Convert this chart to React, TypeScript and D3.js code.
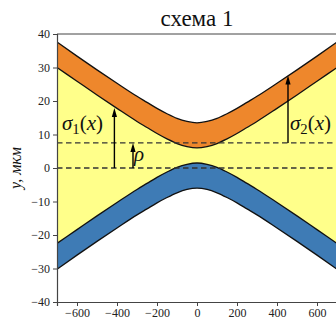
import { useEffect, useRef } from 'react';
import * as d3 from 'd3';

// readings
const xs = [-700, -600, -500, -400, -300, -250, -200, -150, -100, -50, 0, 50, 100, 150, 200, 250, 300, 400, 500, 600, 700];
const orangeLow = [30, 25.9, 21.8, 17.8, 13.9, 12.1, 10.3, 8.7, 7.3, 6.4, 6, 6.4, 7.3, 8.7, 10.3, 12.1, 13.9, 17.8, 21.8, 25.9, 30];
const orangeHigh = [37.6, 33.4, 29.3, 25.3, 21.4, 19.6, 17.8, 16.2, 14.8, 13.9, 13.5, 13.9, 14.8, 16.2, 17.8, 19.6, 21.4, 25.3, 29.3, 33.4, 37.6];
const blueHigh = [-22.5, -18.4, -14.3, -10.3, -6.4, -4.6, -2.8, -1.2, 0.2, 1.1, 1.5, 1.1, 0.2, -1.2, -2.8, -4.6, -6.4, -10.3, -14.3, -18.4, -22.5];
const blueLow = [-30.2, -26, -21.9, -17.9, -14, -12.2, -10.4, -8.8, -7.4, -6.4, -6, -6.4, -7.4, -8.8, -10.4, -12.2, -14, -17.9, -21.9, -26, -30.2];
const dashedY = [0, 7.5];
const xTicks = [-600, -400, -200, 0, 200, 400, 600];
const yTicks = [-40, -30, -20, -10, 0, 10, 20, 30, 40];
// arrows: [x, from, to]
const arrowSigma1 = [-413, 0, 17.9];
const arrowRho = [-320, 0, 7.5];
const arrowSigma2 = [455, 7.5, 27.6];

const W = 336;
const H = 320;
const margin = { top: 34, right: -1, bottom: 18, left: 57 };
const serif = 'Liberation Serif';

export default function App() {
  const ref = useRef<SVGSVGElement>(null);

  useEffect(() => {
    if (!ref.current) return;
    const svg = d3.select(ref.current);
    svg.selectAll('*').remove();

    const x = d3.scaleLinear().domain([-700, 700]).range([margin.left, W - margin.right]);
    const y = d3.scaleLinear().domain([-40, 40]).range([H - margin.bottom, margin.top]);

    svg.append('defs').append('clipPath').attr('id', 'plot')
      .append('rect')
      .attr('x', x(-700)).attr('y', y(40))
      .attr('width', x(700) - x(-700)).attr('height', y(-40) - y(40));

    const g = svg.append('g').attr('clip-path', 'url(#plot)');
    const idx = d3.range(xs.length);
    const curve = d3.curveMonotoneX;

    const band = (lo: number[], hi: number[]) =>
      d3.area<number>().x((i) => x(xs[i])).y0((i) => y(lo[i])).y1((i) => y(hi[i])).curve(curve)(idx)!;
    const line = (v: number[]) =>
      d3.line<number>().x((i) => x(xs[i])).y((i) => y(v[i])).curve(curve)(idx)!;

    g.append('path').attr('d', band(blueHigh, orangeLow)).attr('fill', '#ffff8a');
    g.append('path').attr('d', band(orangeLow, orangeHigh)).attr('fill', '#ee872c');
    g.append('path').attr('d', band(blueLow, blueHigh)).attr('fill', '#3e7bb5');

    [orangeLow, orangeHigh, blueHigh, blueLow].forEach((v) => {
      g.append('path').attr('d', line(v)).attr('fill', 'none')
        .attr('stroke', '#111').attr('stroke-width', 1.3);
    });

    dashedY.forEach((d) => {
      g.append('line')
        .attr('x1', x(-700)).attr('x2', x(700))
        .attr('y1', y(d)).attr('y2', y(d))
        .attr('stroke', '#333').attr('stroke-width', 1.3)
        .attr('stroke-dasharray', '5.5,3.5');
    });

    const arrow = ([ax, from, to]: number[]) => {
      const px = x(ax);
      const y0 = y(from);
      const y1 = y(to);
      g.append('line').attr('x1', px).attr('x2', px).attr('y1', y0).attr('y2', y1 + 6)
        .attr('stroke', '#000').attr('stroke-width', 1.4);
      g.append('path')
        .attr('d', `M${px},${y1} L${px - 2.6},${y1 + 9} L${px + 2.6},${y1 + 9} Z`)
        .attr('fill', '#000');
    };
    arrow(arrowSigma1);
    arrow(arrowRho);
    arrow(arrowSigma2);

    // labels
    const mathLabel = (px: number, py: number, sub: string | null, size: number, name: string, tail: boolean) => {
      const t = svg.append('text').attr('x', px).attr('y', py)
        .attr('font-family', serif).attr('font-size', size).attr('fill', '#111');
      t.append('tspan').attr('font-style', 'italic').text(name);
      if (sub) t.append('tspan').attr('font-size', size * 0.7).attr('dy', 4).text(sub);
      if (tail) {
        t.append('tspan').attr('dy', sub ? -4 : 0).text('(');
        t.append('tspan').attr('font-style', 'italic').text('x');
        t.append('tspan').text(')');
      }
    };
    mathLabel(62, 130, '1', 21, 'σ', true);
    mathLabel(290, 130, '2', 21, 'σ', true);
    mathLabel(134, 161, null, 21, 'ρ', false);

    // spines
    const spine = '#444';
    svg.append('line').attr('x1', x(-700)).attr('x2', x(700)).attr('y1', y(40)).attr('y2', y(40))
      .attr('stroke', spine).attr('stroke-width', 1);
    svg.append('line').attr('x1', x(700)).attr('x2', x(700)).attr('y1', y(40)).attr('y2', y(-40))
      .attr('stroke', spine).attr('stroke-width', 1);

    const fmt = (d: d3.NumberValue) => String(d).replace('-', '\u2212');

    svg.append('g')
      .attr('transform', `translate(${x(-700)},0)`)
      .call(d3.axisLeft(y).tickValues(yTicks).tickSize(4).tickPadding(3).tickFormat(fmt))
      .call((ax) => ax.attr('font-family', serif))
      .call((ax) => ax.select('.domain').attr('stroke', spine).attr('stroke-width', 1.2))
      .call((ax) => ax.selectAll('.tick line').attr('stroke', spine))
      .call((ax) => ax.selectAll('.tick text').attr('font-size', 12).attr('fill', '#222'));

    svg.append('g')
      .attr('transform', `translate(0,${y(-40)})`)
      .call(d3.axisBottom(x).tickValues(xTicks).tickSize(4).tickPadding(2).tickFormat(fmt))
      .call((ax) => ax.attr('font-family', serif))
      .call((ax) => ax.select('.domain').attr('stroke', spine).attr('stroke-width', 1.2))
      .call((ax) => ax.selectAll('.tick line').attr('stroke', spine))
      .call((ax) => ax.selectAll('.tick text').attr('font-size', 12).attr('fill', '#222'));

    svg.append('text')
      .attr('x', (x(-700) + x(700)) / 2).attr('y', 26)
      .attr('text-anchor', 'middle')
      .attr('font-family', serif).attr('font-size', 23).attr('fill', '#111')
      .text('схема 1');

    svg.append('text')
      .attr('transform', `translate(21,${(y(40) + y(-40)) / 2}) rotate(-90)`)
      .attr('text-anchor', 'middle')
      .attr('font-family', serif).attr('font-size', 16).attr('font-style', 'italic').attr('fill', '#111')
      .text('y, мкм');
  }, []);

  return (
    <svg ref={ref} width={W} height={H}
      style={{ position: 'absolute', left: 0, top: 0, background: '#fff' }} />
  );
}
